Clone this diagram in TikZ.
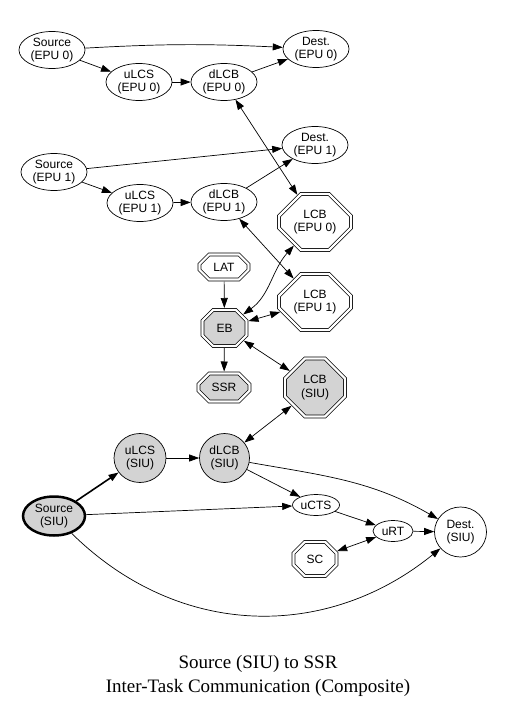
\documentclass[tikz,border=0pt]{standalone}
\usepackage{fontspec}
\setmainfont{Liberation Sans}
\newfontfamily\titlefont{Liberation Serif}
\definecolor{siugray}{HTML}{D3D3D3}
\usepackage{tikz}
\usetikzlibrary{shapes.geometric}
\usetikzlibrary{shapes.misc}
\usetikzlibrary{arrows.meta}

\tikzset{
  task/.style={ellipse, draw, inner sep=0pt, align=center, minimum width=66pt, minimum height=37pt, font=\fontsize{12}{13.5}\selectfont},
  buf/.style={chamfered rectangle, draw, double, double distance=2.2pt, inner sep=0pt, outer sep=2pt, align=center, font=\fontsize{12}{13.5}\selectfont},
  cut/.style={chamfered rectangle xsep=#1, chamfered rectangle ysep=#1},
  siu/.style={fill=siugray},
  arr/.style={-{Triangle[length=10pt,width=7pt]}},
  dbl/.style={{Triangle[length=10pt,width=7pt]}-{Triangle[length=10pt,width=7pt]}}
}

\begin{document}
\begin{tikzpicture}[x=1pt, y=1pt, line width=0.7pt]
      \useasboundingbox (0,0) rectangle (505,-708);
      \node[task] (src0) at (52,-50) {Source\\(EPU 0)};
      \node[task] (dst0) at (316,-49) {Dest.\\(EPU 0)};
      \node[task] (ulcs0) at (139,-82) {uLCS\\(EPU 0)};
      \node[task] (dlcb0) at (224,-82) {dLCB\\(EPU 0)};
      \node[task] (dst1) at (315,-145) {Dest.\\(EPU 1)};
      \node[task] (src1) at (54,-172) {Source\\(EPU 1)};
      \node[task] (ulcs1) at (140,-203) {uLCS\\(EPU 1)};
      \node[task] (dlcb1) at (224,-202) {dLCB\\(EPU 1)};
      \node[buf, cut=11pt, minimum width=72pt, minimum height=56pt] (lcb0) at (315,-222) {LCB\\(EPU 0)};
      \node[buf, cut=5.5pt, minimum width=49pt, minimum height=25pt] (lat) at (224,-267) {LAT};
      \node[buf, cut=11pt, minimum width=72pt, minimum height=56pt] (lcb1) at (315,-302) {LCB\\(EPU 1)};
      \node[buf, siu, cut=6.5pt, minimum width=44pt, minimum height=36pt] (eb) at (224.5,-328) {EB};
      \node[buf, siu, cut=6.5pt, minimum width=51pt, minimum height=28pt] (ssr) at (224,-387.5) {SSR};
      \node[buf, siu, cut=10pt, minimum width=60pt, minimum height=58pt] (lcbs) at (315,-387.5) {LCB\\(SIU)};
      \node[task, siu, minimum width=52pt, minimum height=49pt] (ulcss) at (140,-458) {uLCS\\(SIU)};
      \node[task, siu, minimum width=50pt, minimum height=49pt] (dlcbs) at (224.5,-458) {dLCB\\(SIU)};
      \node[task, siu, line width=2.5pt, minimum width=62pt, minimum height=39pt] (srcs) at (54,-516) {Source\\(SIU)};
      \node[task, minimum width=47pt, minimum height=21pt] (ucts) at (316,-505) {uCTS};
      \node[task, minimum width=40pt, minimum height=21pt] (urt) at (393,-531) {uRT};
      \node[task, minimum width=52pt, minimum height=50pt] (dsts) at (460.5,-532) {Dest.\\(SIU)};
      \node[buf, cut=7pt, minimum width=43pt, minimum height=34pt] (sc) at (315,-559) {SC};
      \node[font=\titlefont\fontsize{19}{24}\selectfont, align=center] (title) at (258,-676) {Source (SIU) to SSR\\Inter-Task Communication (Composite)};
      \draw[arr] (src0) to[bend left=3] (dst0);
      \draw[arr] (src0) -- (ulcs0);
      \draw[arr] (ulcs0) -- (dlcb0);
      \draw[arr] (dlcb0) -- (dst0);
      \draw[dbl] (dlcb0) -- (lcb0);
      \draw[arr] (src1) -- (dst1);
      \draw[arr] (src1) -- (ulcs1);
      \draw[arr] (ulcs1) -- (dlcb1);
      \draw[arr] (dlcb1) -- (dst1);
      \draw[dbl] (dlcb1) -- (lcb1);
      \draw[dbl] (lcb0) .. controls (272,-270) and (270,-295) .. (eb);
      \draw[arr] (lat) -- (eb);
      \draw[dbl] (eb) -- (lcb1);
      \draw[arr] (eb) -- (ssr);
      \draw[dbl] (eb) -- (lcbs);
      \draw[dbl] (dlcbs) -- (lcbs);
      \draw[arr, line width=1.6pt] (srcs) -- (ulcss);
      \draw[arr] (ulcss) -- (dlcbs);
      \draw[arr] (dlcbs) -- (ucts);
      \draw[arr] (dlcbs) to[out=-10, in=150] (dsts);
      \draw[arr] (srcs) -- (ucts);
      \draw[arr] (ucts) -- (urt);
      \draw[arr] (urt) -- (dsts);
      \draw[dbl] (sc) -- (urt);
      \draw[arr] (srcs) .. controls (180,-640) and (328,-640) .. (dsts);
    \end{tikzpicture}
\end{document}
